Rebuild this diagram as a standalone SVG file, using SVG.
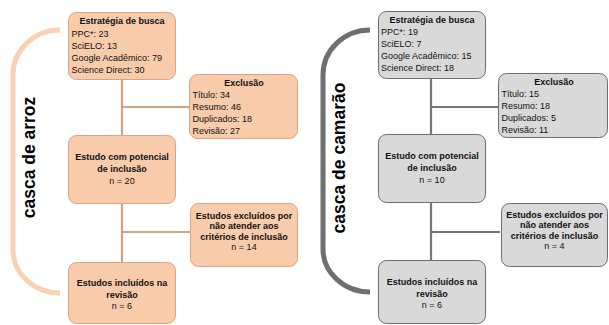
<svg xmlns="http://www.w3.org/2000/svg" width="609" height="325" viewBox="0 0 609 325">
<style>
text{font-family:"Liberation Sans",Arial,sans-serif;font-size:9px;fill:#111}
.b{font-weight:bold}
.c{text-anchor:middle}
.side{font-size:17.5px;font-weight:bold;text-anchor:middle;fill:#000}
.o{fill:#f8cbab;stroke:#d9a582;stroke-width:1}
.g{fill:#d9d9d9;stroke:#6e6e6e;stroke-width:1}
.lo{stroke:#d8a17c;stroke-width:2.2;fill:none}
.lg{stroke:#767676;stroke-width:2.2;fill:none}
.bo{stroke:#f9d2b3;stroke-width:5;fill:none}
.bg{stroke:#6f6f6f;stroke-width:5;fill:none}
</style>
<g id="connectors">
<path class="lo" d="M122,80V262M122,107H189M122,232H190"/>
<path class="lg" d="M431,79V260M431,107H498M431,232H500"/>
</g>
<g id="bracket-arroz"><path class="bo" d="M60,30A47,45 0 0 0 13,75V250A47,43 0 0 0 60,293"/></g>
<g id="label-arroz"><text class="side" transform="translate(35,157.5) rotate(-90)">casca de arroz</text></g>
<g id="bracket-camarao"><path class="bg" d="M370,30A47,45 0 0 0 323,75V249A47,43 0 0 0 370,292"/></g>
<g id="label-camarao"><text class="side" transform="translate(345,158) rotate(-90)">casca de camarão</text></g>

<g id="a-busca"><rect class="o" x="68.5" y="12.5" width="107" height="67" rx="8"/>
<text class="b c" x="122" y="24">Estratégia de busca</text>
<text x="71.5" y="36.5">PPC*: 23</text><text x="71.5" y="48.5">SciELO: 13</text><text x="71.5" y="60.5">Google Acadêmico: 79</text><text x="71.5" y="72.5">Science Direct: 30</text></g>
<g id="a-exclusao"><rect class="o" x="189.5" y="74.5" width="108" height="64" rx="8"/>
<text class="b c" x="244" y="85.5">Exclusão</text>
<text x="192.5" y="97.5">Título: 34</text><text x="192.5" y="109.5">Resumo: 46</text><text x="192.5" y="121.5">Duplicados: 18</text><text x="192.5" y="133.5">Revisão: 27</text></g>
<g id="a-potencial"><rect class="o" x="68.5" y="135.5" width="107" height="68" rx="8"/>
<text class="b c" x="122" y="159.5">Estudo com potencial</text><text class="b c" x="122" y="171.5">de inclusão</text><text class="c" x="122" y="184">n = 20</text></g>
<g id="a-excluidos"><rect class="o" x="190.5" y="203.5" width="107" height="63" rx="8"/>
<text class="b c" x="244" y="219">Estudos excluídos por</text><text class="b c" x="244" y="229">não atender aos</text><text class="b c" x="244" y="239.5">critérios de inclusão</text><text class="c" x="244" y="249.5">n = 14</text></g>
<g id="a-incluidos"><rect class="o" x="68.5" y="262.5" width="107" height="61" rx="8"/>
<text class="b c" x="122" y="286">Estudos incluídos na</text><text class="b c" x="122" y="297.5">revisão</text><text class="c" x="122" y="309">n = 6</text></g>

<g id="c-busca"><rect class="g" x="378.5" y="11.5" width="107" height="67" rx="8"/>
<text class="b c" x="432" y="23">Estratégia de busca</text>
<text x="381" y="35">PPC*: 19</text><text x="381" y="47">SciELO: 7</text><text x="381" y="59">Google Acadêmico: 15</text><text x="381" y="71">Science Direct: 18</text></g>
<g id="c-exclusao"><rect class="g" x="498.5" y="73.5" width="109" height="64" rx="8"/>
<text class="b c" x="554" y="84.5">Exclusão</text>
<text x="501.5" y="96.5">Título: 15</text><text x="501.5" y="108.5">Resumo: 18</text><text x="501.5" y="120.5">Duplicados: 5</text><text x="501.5" y="132.5">Revisão: 11</text></g>
<g id="c-potencial"><rect class="g" x="378.5" y="134.5" width="107" height="68" rx="8"/>
<text class="b c" x="432" y="158.5">Estudo com potencial</text><text class="b c" x="432" y="170.5">de inclusão</text><text class="c" x="432" y="183">n = 10</text></g>
<g id="c-excluidos"><rect class="g" x="501.5" y="203.5" width="106" height="63" rx="8"/>
<text class="b c" x="554.5" y="218">Estudos excluídos por</text><text class="b c" x="554.5" y="228">não atender aos</text><text class="b c" x="554.5" y="238.5">critérios de inclusão</text><text class="c" x="554.5" y="248.5">n = 4</text></g>
<g id="c-incluidos"><rect class="g" x="378.5" y="260.5" width="107" height="63" rx="8"/>
<text class="b c" x="432" y="285">Estudos incluídos na</text><text class="b c" x="432" y="296.5">revisão</text><text class="c" x="432" y="308">n = 6</text></g>
</svg>
